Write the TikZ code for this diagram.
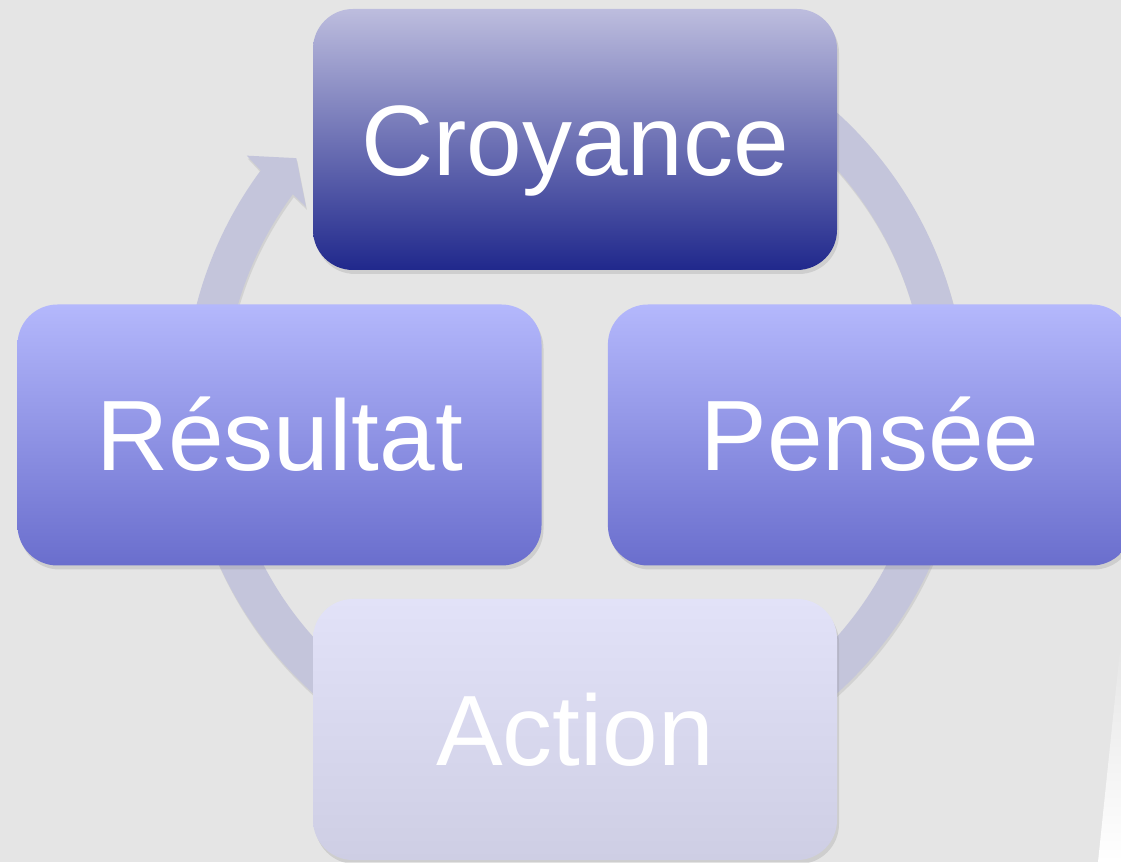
\documentclass[tikz,border=0pt]{standalone}
\usepackage{fontspec}
\setmainfont{Liberation Sans}
\usepackage{tikz}
\usetikzlibrary{positioning,shadows}

\definecolor{bggray}{RGB}{229,229,229}
\definecolor{ringlav}{RGB}{196,197,219}
\definecolor{croytop}{RGB}{189,189,222}
\definecolor{croybot}{RGB}{32,40,140}
\definecolor{sidetop}{RGB}{180,184,252}
\definecolor{sidebot}{RGB}{106,110,205}
\definecolor{acttop}{RGB}{226,226,248}
\definecolor{actbot}{RGB}{206,206,228}

\tikzset{
    stagebox/.style={rounded corners=40pt, minimum width=524pt, minimum height=261pt,
        inner sep=0pt, text=white, font=\fontsize{100}{100}\selectfont,
        text height=71.6pt, text depth=0pt,
        drop shadow={opacity=0.22, shadow xshift=2pt, shadow yshift=-4pt}},
    croyfill/.style={top color=croytop, bottom color=croybot},
    sidefill/.style={top color=sidetop, bottom color=sidebot},
    actfill/.style={top color=acttop, bottom color=actbot}
}

\begin{document}
\begin{tikzpicture}[x=1pt,y=1pt]

\def\ringout{391}
\def\ringin{351}
\def\headangle{-216.5}

\useasboundingbox (0,0) rectangle (1121,862);
\clip (0,0) rectangle (1121,862);
\fill[bggray] (0,0) rectangle (1121,862);

\coordinate (hub) at (575,459);

\begin{scope}[shift={(hub)}]
    \fill[ringlav, drop shadow={opacity=0.18, shadow xshift=1pt, shadow yshift=-3pt}]
        (70:\ringout) arc[start angle=70, end angle=\headangle, radius=\ringout pt]
        -- (-217:411) -- (-221.3:371) -- (-216.1:333)
        -- (\headangle:\ringin) arc[start angle=\headangle, end angle=70, radius=\ringin pt]
        -- cycle;
\end{scope}

\node[stagebox, croyfill] (croy) at (575,722.5) {Croyance};
\node[stagebox, sidefill] (res) at (279.5,427) {Résultat};
\node[stagebox, sidefill, right=66pt of res] (pens) {Pensée};
\node[stagebox, actfill] (act) at (575,132.5) {Action};

\shade[top color=bggray, bottom color=white] (1121,222) -- (1098,0) -- (1121,0) -- cycle;

\end{tikzpicture}
\end{document}
